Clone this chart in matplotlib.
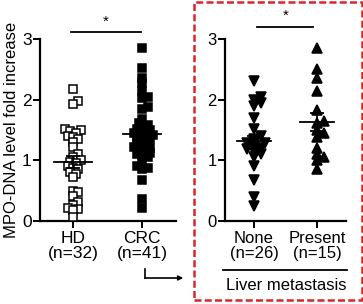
import numpy as np
import matplotlib
matplotlib.use("Agg")
from matplotlib import pyplot as plt
from matplotlib.patches import Rectangle, FancyArrowPatch
from matplotlib.lines import Line2D

plt.rcParams['font.family'] = ['Liberation Sans', 'DejaVu Sans']

# values
hd = [2.17, 1.97, 1.93, 1.52, 1.50, 1.48, 1.45, 1.40, 1.38, 1.35, 1.30, 1.22,
      1.10, 1.05, 1.00, 0.98, 0.95, 0.90, 0.88, 0.85, 0.80, 0.78, 0.72, 0.50,
      0.47, 0.42, 0.32, 0.27, 0.22, 0.20, 0.18, 0.07]
crc = [2.85, 2.52, 2.35, 2.27, 2.15, 2.05, 2.02, 1.88, 1.85, 1.68, 1.62, 1.58,
       1.55, 1.52, 1.50, 1.48, 1.45, 1.45, 1.42, 1.40, 1.38, 1.35, 1.33, 1.30,
       1.28, 1.25, 1.22, 1.20, 1.18, 1.15, 1.12, 1.10, 1.08, 1.05, 1.00, 0.90,
       0.88, 0.85, 0.68, 0.37, 0.22]
none_met = [2.30, 2.00, 2.05, 1.95, 1.90, 1.70, 1.52, 1.40, 1.35, 1.30, 1.28,
            1.25, 1.22, 1.20, 1.18, 1.28, 1.25, 1.22, 1.20, 1.15, 1.10, 1.05,
            0.90, 0.68, 0.40, 0.25]
present_met = [2.85, 2.50, 2.35, 2.15, 1.83, 1.65, 1.62, 1.50, 1.45, 1.38,
               1.20, 1.10, 1.05, 1.00, 0.85]

left_labels = ['HD\n(n=32)', 'CRC\n(n=41)']
right_labels = ['None\n(n=26)', 'Present\n(n=15)']
yticks = [0, 1, 2, 3]


def swarm(vals, xpx, ypx, d, maxoff):
    # simple deterministic beeswarm, offsets in data units
    order = np.argsort(vals)
    placed = []
    offs = np.zeros(len(vals))
    step = d * 0.6
    for i in order:
        y = vals[i] * ypx
        best = 0.0
        for k in range(40):
            cand = ((k + 1) // 2) * step * (1 if k % 2 else -1)
            if abs(cand) > maxoff:
                break
            if all((cand - px) ** 2 + (y - py) ** 2 >= d ** 2 for px, py in placed):
                best = cand
                break
        placed.append((best, y))
        offs[i] = best / xpx
    return offs


def panel(ax, groups, markers, fill, msize, xpx, ypx, labels, fs):
    for pos, vals, m, fc in zip([0, 1], groups, markers, fill):
        vals = np.array(vals)
        x = pos + swarm(vals, xpx, ypx, msize * 0.6, 13)
        ax.plot(x, vals, linestyle='none', marker=m, markersize=msize * 0.72,
                markerfacecolor=fc, markeredgecolor='black', markeredgewidth=1.1,
                clip_on=False, zorder=3)
        mean = vals.mean()
        sem = vals.std(ddof=1) / np.sqrt(len(vals))
        ax.plot([pos - 0.27, pos + 0.27], [mean, mean], color='black', lw=1.3, zorder=4)
        ax.errorbar(pos, mean, yerr=sem, color='black', lw=1.3, capsize=5,
                    capthick=1.3, zorder=4)
    for s in ['top', 'right']:
        ax.spines[s].set_visible(False)
    for s in ['left', 'bottom']:
        ax.spines[s].set_linewidth(1.6)
    ax.set_ylim(0, 3)
    ax.set_yticks(yticks)
    ax.set_xticks([0, 1])
    ax.set_xticklabels(labels, linespacing=1.0)
    ax.tick_params(width=1.4, length=5, labelsize=fs, pad=2, direction='out')
    ax.tick_params(axis='y', pad=1)


fig = plt.figure(figsize=(3.63, 3.04), dpi=100)

ax1 = fig.add_axes([40 / 363, 83 / 304, 136 / 363, 182 / 304])
ax1.set_xlim(-0.478, 1.49)
panel(ax1, [hd, crc], ['s', 's'], ['white', 'black'], 7.5, 69, 60.7, left_labels, 12.5)
ax1.set_ylabel('MPO-DNA level fold increase', fontsize=12, labelpad=2)
ax1.plot([-0.03, 0.99], [3.11, 3.11], color='black', lw=1.3, clip_on=False)
ax1.text(0.48, 3.17, '*', ha='center', va='bottom', fontsize=11, clip_on=False)

ax2 = fig.add_axes([225 / 363, 83 / 304, 121 / 363, 182 / 304])
ax2.set_xlim(-0.46, 1.46)
panel(ax2, [none_met, present_met], ['v', '^'], ['black', 'black'], 10, 63, 60.7,
      right_labels, 12)
ax2.plot([0.05, 0.94], [3.2, 3.2], color='black', lw=1.3, clip_on=False)
ax2.text(0.5, 3.26, '*', ha='center', va='bottom', fontsize=11, clip_on=False)


def fx(px):
    return px / 363


def fy(py):
    return 1 - py / 304


# grouping line and label under the right panel
fig.add_artist(Line2D([fx(223), fx(347)], [fy(270), fy(270)], color='black', lw=1.3))
fig.text(fx(286), fy(285), 'Liver metastasis', ha='center', va='center', fontsize=12)

# red dashed box
fig.add_artist(Rectangle((fx(194), fy(300)), fx(362) - fx(194), fy(2) - fy(300),
                         fill=False, edgecolor='#d7262b', lw=1.8,
                         linestyle=(0, (2.8, 1.3)), transform=fig.transFigure))

# arrow from CRC to the box
fig.add_artist(Line2D([fx(145), fx(145)], [fy(269), fy(278)], color='black', lw=1.2))
fig.add_artist(Line2D([fx(145), fx(180)], [fy(278), fy(278)], color='black', lw=1.2))
fig.patches.append(FancyArrowPatch(
    (fx(177), fy(278)), (fx(186), fy(278)), transform=fig.transFigure,
    arrowstyle='-|>', mutation_scale=7, color='black', lw=1.1))

fig.savefig('out.png', dpi=100)
